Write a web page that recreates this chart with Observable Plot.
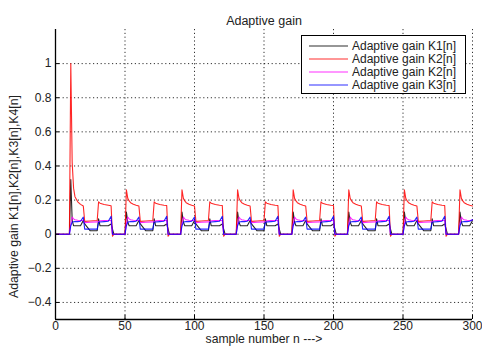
<!DOCTYPE html>
<html>
<head>
<meta charset="utf-8">
<script src="https://cdn.jsdelivr.net/npm/d3@7"></script>
<script src="https://cdn.jsdelivr.net/npm/@observablehq/plot@0.6"></script>
<style>
  html, body { margin: 0; padding: 0; background: #fff; }
  #wrap { position: relative; width: 482px; height: 347px; font-family: "Liberation Sans", Arial, sans-serif; }
  #legend { position: absolute; left: 301px; top: 35px; width: 163px; height: 57px; border: 1px solid #000; background: #fff; box-sizing: content-box; }
  #legend .row { position: absolute; left: 0; height: 12px; width: 100%; }
  #legend svg { position: absolute; left: 7px; top: 0; }
  #legend span { position: absolute; left: 50px; top: 0; font-size: 12px; color: #222; white-space: nowrap; line-height: 12px; }
</style>
</head>
<body>
<div id="wrap"></div>
<script>
const title = "Adaptive gain";
const xLabel = "sample number n --->";
const yLabel = "Adaptive gain K1[n],K2[n],K3[n],K4[n]";
const xTicks = [0, 50, 100, 150, 200, 250, 300];
const yTicks = [-0.4, -0.2, 0, 0.2, 0.4, 0.6, 0.8, 1];
const xDomain = [0, 300];
const yDomain = [-0.5, 1.2];
const seriesNames = ["Adaptive gain K1[n]", "Adaptive gain K2[n]", "Adaptive gain K2[n]", "Adaptive gain K3[n]"];
const seriesColors = ["#000000", "#ff0000", "#ff00ff", "#0000ff"];

// sample numbers (shared by all series)
const n = [0,
  10,11,12,13,14,16,18,20,21,25,30,31,32,35,38,40,41,42,
  50,51,52,53,54,56,58,60,61,65,70,71,72,75,78,80,81,82,
  90,91,92,93,94,96,98,100,101,105,110,111,112,115,118,120,121,122,
  130,131,132,133,134,136,138,140,141,145,150,151,152,155,158,160,161,162,
  170,171,172,173,174,176,178,180,181,185,190,191,192,195,198,200,201,202,
  210,211,212,213,214,216,218,220,221,225,230,231,232,235,238,240,241,242,
  250,251,252,253,254,256,258,260,261,265,270,271,272,275,278,280,281,282,
  290,291,292,293,294,296,298,300];

const k1 = [0,
  0,0.32,0.08,0.05,0.05,0.05,0.05,0.08,0.06,0.02,0.02,0.09,0.05,0.05,0.05,0.06,0.03,0,
  0,0.13,0.07,0.05,0.05,0.05,0.05,0.08,0.06,0.02,0.02,0.09,0.05,0.05,0.05,0.06,0.03,0,
  0,0.13,0.07,0.05,0.05,0.05,0.05,0.08,0.06,0.02,0.02,0.09,0.05,0.05,0.05,0.06,0.03,0,
  0,0.13,0.07,0.05,0.05,0.05,0.05,0.08,0.06,0.02,0.02,0.09,0.05,0.05,0.05,0.06,0.03,0,
  0,0.13,0.07,0.05,0.05,0.05,0.05,0.08,0.06,0.02,0.02,0.09,0.05,0.05,0.05,0.06,0.03,0,
  0,0.13,0.07,0.05,0.05,0.05,0.05,0.08,0.06,0.02,0.02,0.09,0.05,0.05,0.05,0.06,0.03,0,
  0,0.13,0.07,0.05,0.05,0.05,0.05,0.08,0.06,0.02,0.02,0.09,0.05,0.05,0.05,0.06,0.03,0,
  0,0.13,0.07,0.05,0.05,0.05,0.05,0.08];

const k2a = [0,
  0,1.0,0.42,0.27,0.22,0.19,0.175,0.165,0.075,0.077,0.08,0.19,0.182,0.174,0.17,0.167,-0.012,0,
  0,0.26,0.21,0.195,0.185,0.176,0.17,0.165,0.075,0.077,0.08,0.19,0.182,0.174,0.17,0.168,-0.012,0,
  0,0.26,0.21,0.195,0.185,0.176,0.17,0.165,0.075,0.077,0.08,0.19,0.182,0.174,0.17,0.168,-0.012,0,
  0,0.26,0.21,0.195,0.185,0.176,0.17,0.165,0.075,0.077,0.08,0.19,0.182,0.174,0.17,0.168,-0.012,0,
  0,0.26,0.21,0.195,0.185,0.176,0.17,0.165,0.075,0.077,0.08,0.19,0.182,0.174,0.17,0.168,-0.012,0,
  0,0.26,0.21,0.195,0.185,0.176,0.17,0.165,0.075,0.077,0.08,0.19,0.182,0.174,0.17,0.168,-0.012,0,
  0,0.26,0.21,0.195,0.185,0.176,0.17,0.165,0.075,0.077,0.08,0.19,0.182,0.174,0.17,0.168,-0.012,0,
  0,0.26,0.21,0.195,0.185,0.176,0.17,0.165];

const k2b = [0,
  0,0.06,0.1,0.09,0.085,0.082,0.08,0.08,0.068,0.07,0.072,0.075,0.078,0.08,0.08,0.08,0,0,
  0,0.06,0.1,0.09,0.085,0.082,0.08,0.08,0.068,0.07,0.072,0.075,0.078,0.08,0.08,0.08,0,0,
  0,0.06,0.1,0.09,0.085,0.082,0.08,0.08,0.068,0.07,0.072,0.075,0.078,0.08,0.08,0.08,0,0,
  0,0.06,0.1,0.09,0.085,0.082,0.08,0.08,0.068,0.07,0.072,0.075,0.078,0.08,0.08,0.08,0,0,
  0,0.06,0.1,0.09,0.085,0.082,0.08,0.08,0.068,0.07,0.072,0.075,0.078,0.08,0.08,0.08,0,0,
  0,0.06,0.1,0.09,0.085,0.082,0.08,0.08,0.068,0.07,0.072,0.075,0.078,0.08,0.08,0.08,0,0,
  0,0.06,0.1,0.09,0.085,0.082,0.08,0.08,0.068,0.07,0.072,0.075,0.078,0.08,0.08,0.08,0,0,
  0,0.06,0.1,0.09,0.085,0.082,0.08,0.083];

const k3 = [0,
  0,0.05,0.07,0.073,0.074,0.074,0.076,0.1,0.03,0.03,0.03,0.07,0.072,0.074,0.076,0.105,0,0,
  0,0.05,0.07,0.073,0.074,0.074,0.076,0.1,0.03,0.03,0.03,0.07,0.072,0.074,0.076,0.105,0,0,
  0,0.05,0.07,0.073,0.074,0.074,0.076,0.1,0.03,0.03,0.03,0.07,0.072,0.074,0.076,0.105,0,0,
  0,0.05,0.07,0.073,0.074,0.074,0.076,0.1,0.03,0.03,0.03,0.07,0.072,0.074,0.076,0.105,0,0,
  0,0.05,0.07,0.073,0.074,0.074,0.076,0.1,0.03,0.03,0.03,0.07,0.072,0.074,0.076,0.105,0,0,
  0,0.05,0.07,0.073,0.074,0.074,0.076,0.1,0.03,0.03,0.03,0.07,0.072,0.074,0.076,0.105,0,0,
  0,0.05,0.07,0.073,0.074,0.074,0.076,0.1,0.03,0.03,0.03,0.07,0.072,0.074,0.076,0.105,0,0,
  0,0.05,0.07,0.073,0.074,0.074,0.076,0.085];

const seriesValues = [k1, k2a, k2b, k3];
const rows = [];
seriesValues.forEach((vals, si) => {
  vals.forEach((v, i) => rows.push({series: si, n: n[i], v}));
});

const fmt = d => String(d).replace("-", "\u2212");
const gridStyle = {stroke: "#000", strokeOpacity: 0.9, strokeDasharray: "1.2,2.6", strokeWidth: 0.9};

const chart = Plot.plot({
  width: 482,
  height: 347,
  marginLeft: 55,
  marginRight: 10,
  marginTop: 29,
  marginBottom: 28,
  style: {fontFamily: "Liberation Sans, Arial, sans-serif", fontSize: "12px", color: "#222", background: "#fff", overflow: "visible"},
  x: {domain: xDomain, label: null},
  y: {domain: yDomain, label: null},
  marks: [
    Plot.gridX(xTicks, gridStyle),
    Plot.gridY(yTicks, gridStyle),
    ...seriesValues.map((_, si) => Plot.line(rows.filter(d => d.series === si), {
      x: "n", y: "v", stroke: seriesColors[si], strokeWidth: 1.1, strokeOpacity: 0.85, curve: "linear"
    })),
    Plot.ruleX([xDomain[0]], {stroke: "#000", strokeWidth: 1.3}),
    Plot.ruleY([yDomain[0]], {stroke: "#000", strokeWidth: 1.3}),
    Plot.axisX({ticks: xTicks, tickSize: -4, text: null, stroke: "#000"}),
    Plot.axisX({ticks: xTicks, tickSize: 0, tickPadding: 2, fontSize: 12, tickFormat: fmt}),
    Plot.axisY({ticks: yTicks, tickSize: -4, text: null, stroke: "#000"}),
    Plot.axisY({ticks: yTicks, tickSize: 0, tickPadding: 4, fontSize: 12, tickFormat: fmt}),
    Plot.text([title], {frameAnchor: "top", dy: -13.5, fontSize: 12.5, textAnchor: "middle", text: d => d}),
    Plot.text([xLabel], {frameAnchor: "bottom", dy: 23.5, fontSize: 12.2, textAnchor: "middle", text: d => d}),
    Plot.text([yLabel], {frameAnchor: "left", dx: -41, dy: 22, rotate: -90, fontSize: 12.3, textAnchor: "middle", text: d => d})
  ]
});

const wrap = document.getElementById("wrap");
wrap.appendChild(chart);

const legend = document.createElement("div");
legend.id = "legend";
const legendTops = [4, 17, 30, 43];
seriesNames.forEach((name, i) => {
  const row = document.createElement("div");
  row.className = "row";
  row.style.top = legendTops[i] + "px";
  row.innerHTML = `<svg width="40" height="12"><line x1="0" x2="39" y1="6" y2="6" stroke="${seriesColors[i]}" stroke-opacity="0.55" stroke-width="1.3"/></svg><span>${name}</span>`;
  legend.appendChild(row);
});
wrap.appendChild(legend);
</script>
</body>
</html>
